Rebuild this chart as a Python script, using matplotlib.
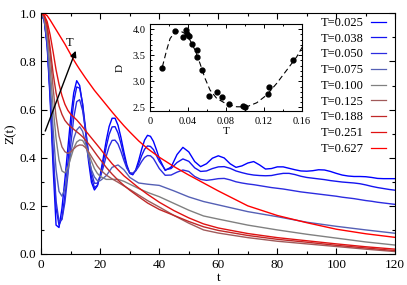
import matplotlib
matplotlib.use("Agg")
import matplotlib.pyplot as plt
import numpy as np
from matplotlib.ticker import MultipleLocator

plt.rcParams['font.family'] = ['Liberation Serif', 'DejaVu Serif']

# time grids
t_osc = np.r_[0:41, 42:121:2]
t_mono = [0, 1, 2, 3, 4, 5, 6, 7, 8, 9, 10, 11, 12, 13, 14, 15, 16, 17, 18, 19, 20,
          22, 24, 26, 28, 30, 33, 36, 40, 45, 50, 55, 60, 70, 80, 90, 100, 110, 120]

# oscillating curves (low T)
z_025 = [1.00, 0.97, 0.86, 0.64, 0.36, 0.12, 0.11, 0.19, 0.31, 0.44,
         0.57, 0.67, 0.72, 0.70, 0.62, 0.505, 0.387, 0.298, 0.266, 0.283,
         0.331, 0.399, 0.471, 0.53, 0.564, 0.564, 0.535, 0.484, 0.424, 0.37,
         0.335, 0.329, 0.349, 0.388, 0.434, 0.473, 0.493, 0.489, 0.468, 0.434, 0.397,
         0.347, 0.361, 0.413, 0.443, 0.424, 0.384, 0.363, 0.375, 0.398, 0.408,
         0.399, 0.375, 0.36, 0.366, 0.378, 0.384, 0.37, 0.353, 0.355, 0.362,
         0.362, 0.356, 0.35, 0.345, 0.344, 0.346, 0.35, 0.349, 0.343, 0.335,
         0.328, 0.324, 0.322, 0.322, 0.321, 0.318, 0.314, 0.313, 0.313, 0.313]
z_038 = [1.00, 0.97, 0.87, 0.66, 0.41, 0.19, 0.12, 0.149, 0.244, 0.378,
         0.519, 0.633, 0.694, 0.689, 0.625, 0.522, 0.409, 0.318, 0.276, 0.285,
         0.324, 0.381, 0.444, 0.497, 0.528, 0.529, 0.503, 0.459, 0.408, 0.362,
         0.335, 0.332, 0.347, 0.375, 0.408, 0.435, 0.449, 0.447, 0.434, 0.41, 0.385,
         0.35, 0.355, 0.38, 0.395, 0.385, 0.358, 0.343, 0.345, 0.355, 0.362,
         0.363, 0.356, 0.345, 0.338, 0.332, 0.328, 0.326, 0.325, 0.326, 0.331,
         0.335, 0.335, 0.33, 0.323, 0.318, 0.315, 0.312, 0.309, 0.305, 0.302,
         0.299, 0.297, 0.295, 0.292, 0.287, 0.281, 0.276, 0.272, 0.268, 0.265]
z_050 = [1.00, 0.97, 0.875, 0.67, 0.43, 0.22, 0.135, 0.143, 0.215, 0.328,
         0.456, 0.567, 0.633, 0.641, 0.596, 0.515, 0.42, 0.339, 0.294, 0.294,
         0.319, 0.36, 0.406, 0.447, 0.472, 0.473, 0.457, 0.426, 0.389, 0.356,
         0.338, 0.336, 0.345, 0.363, 0.384, 0.401, 0.409, 0.408, 0.397, 0.376, 0.355,
         0.327, 0.328, 0.34, 0.349, 0.343, 0.322, 0.31, 0.306, 0.309, 0.313,
         0.314, 0.308, 0.3, 0.295, 0.291, 0.288, 0.284, 0.28, 0.276, 0.273,
         0.27, 0.266, 0.262, 0.258, 0.255, 0.252, 0.249, 0.246, 0.243, 0.24,
         0.236, 0.233, 0.23, 0.226, 0.222, 0.219, 0.215, 0.212, 0.209, 0.206]

# smoother curves (higher T)
z_075 = [1.0, 0.975, 0.89, 0.71, 0.52, 0.35, 0.26, 0.24, 0.27, 0.34, 0.42,
         0.48, 0.515, 0.529, 0.51, 0.46, 0.40, 0.35, 0.32, 0.305, 0.305,
         0.325, 0.36, 0.37, 0.35, 0.318, 0.295, 0.29, 0.285, 0.262, 0.237,
         0.218, 0.204, 0.176, 0.155, 0.132, 0.115, 0.1, 0.086]
z_100 = [1.0, 0.98, 0.91, 0.77, 0.61, 0.48, 0.39, 0.345, 0.337, 0.36, 0.40,
         0.44, 0.465, 0.474, 0.472, 0.45, 0.42, 0.385, 0.355, 0.335, 0.322,
         0.31, 0.31, 0.31, 0.302, 0.29, 0.272, 0.256, 0.238, 0.21, 0.182,
         0.158, 0.145, 0.12, 0.1, 0.082, 0.066, 0.05, 0.037]
z_125 = [1.0, 0.985, 0.935, 0.83, 0.69, 0.57, 0.49, 0.445, 0.425, 0.418, 0.424,
         0.437, 0.448, 0.453, 0.452, 0.442, 0.425, 0.405, 0.385, 0.365, 0.35,
         0.328, 0.312, 0.298, 0.283, 0.268, 0.245, 0.222, 0.195, 0.16, 0.128,
         0.1, 0.087, 0.068, 0.053, 0.042, 0.031, 0.02, 0.01]
z_188 = [1.0, 0.99, 0.95, 0.855, 0.75, 0.67, 0.615, 0.58, 0.555, 0.54, 0.528,
         0.518, 0.508, 0.498, 0.487, 0.473, 0.458, 0.442, 0.425, 0.408, 0.392,
         0.36, 0.332, 0.307, 0.285, 0.265, 0.238, 0.212, 0.185, 0.16, 0.135,
         0.113, 0.098, 0.077, 0.061, 0.049, 0.036, 0.025, 0.014]
z_251 = [1.0, 0.992, 0.965, 0.91, 0.84, 0.765, 0.705, 0.658, 0.622, 0.597, 0.58,
         0.569, 0.557, 0.543, 0.528, 0.512, 0.497, 0.482, 0.467, 0.452, 0.437,
         0.405, 0.375, 0.35, 0.325, 0.305, 0.275, 0.248, 0.215, 0.18, 0.15,
         0.125, 0.108, 0.085, 0.068, 0.055, 0.042, 0.03, 0.02]
z_627 = [1.0, 0.998, 0.99, 0.972, 0.952, 0.932, 0.912, 0.892, 0.872, 0.85, 0.828,
         0.806, 0.786, 0.767, 0.749, 0.731, 0.714, 0.697, 0.68, 0.665, 0.65,
         0.62, 0.59, 0.561, 0.533, 0.507, 0.47, 0.438, 0.402, 0.363, 0.328,
         0.295, 0.262, 0.2, 0.16, 0.13, 0.103, 0.084, 0.069]

temps = ['0.025', '0.038', '0.050', '0.075', '0.100', '0.125', '0.188', '0.251', '0.627']
colors = ['#0000ff', '#1414f0', '#2c2ce0', '#5560b5', '#808080',
          '#a05a5a', '#c02828', '#e01212', '#ff0000']
curves = [(t_osc, z_025), (t_osc, z_038), (t_osc, z_050),
          (t_mono, z_075), (t_mono, z_100), (t_mono, z_125),
          (t_mono, z_188), (t_mono, z_251), (t_mono, z_627)]

# inset: D vs T
inset_T = [0.0129, 0.0263, 0.0351, 0.0379, 0.0393, 0.0414, 0.0439, 0.0498, 0.0491,
           0.0544, 0.0625, 0.0709, 0.0754, 0.0832, 0.0982, 0.1000, 0.1245, 0.1253, 0.150]
inset_D = [3.247, 3.967, 3.853, 3.98, 3.917, 3.866, 3.707, 3.598, 3.457,
           3.215, 2.717, 2.80, 2.692, 2.557, 2.525, 2.50, 2.749, 2.895, 3.40]
fit_T = [0.0130, 0.0175, 0.0211, 0.0263, 0.0316, 0.0368, 0.0421, 0.0474, 0.0526,
         0.0579, 0.0632, 0.0702, 0.0807, 0.0912, 0.1018, 0.1123, 0.1228, 0.1333,
         0.1439, 0.1544, 0.1604]
fit_D = [3.278, 3.598, 3.82, 3.949, 3.968, 3.917, 3.789, 3.598, 3.343,
         3.056, 2.831, 2.672, 2.563, 2.511, 2.511, 2.588, 2.736, 2.96,
         3.215, 3.47, 3.661]

fig = plt.figure(figsize=(4.07, 2.85), dpi=100)
ax = fig.add_axes([0.1015, 0.1088, 0.8697, 0.8445])

for (tt, zz), T, c in zip(curves, temps, colors):
    ax.plot(tt, zz, color=c, lw=1.0, label='T=' + T)

ax.set_xlim(0, 120)
ax.set_ylim(0, 1)
ax.xaxis.set_major_locator(MultipleLocator(20))
ax.xaxis.set_minor_locator(MultipleLocator(10))
ax.yaxis.set_minor_locator(MultipleLocator(0.1))
ax.set_yticks([0, 0.2, 0.4, 0.6, 0.8, 1.0])
ax.set_yticklabels(['0.0', '0.2', '0.4', '0.6', '0.8', '1.0'])
ax.tick_params(which='both', direction='in', top=True, right=True, labelsize=9.5)
ax.tick_params(which='major', length=4, width=0.8)
ax.tick_params(which='minor', length=2, width=0.8)
ax.set_xlabel('t', fontsize=9.5, labelpad=1)
ax.set_ylabel('Z(t)', fontsize=9.5, labelpad=2)

ax.annotate('', xy=(12.0, 0.855), xytext=(1.0, 0.50),
            arrowprops=dict(arrowstyle='-|>', color='k', lw=1.0, mutation_scale=9))
ax.text(9.7, 0.875, 'T', fontsize=9, ha='center', va='center')

leg = ax.legend(loc='upper right', bbox_to_anchor=(0.975, 0.985), frameon=False,
                markerfirst=False, fontsize=9, handlelength=1.2, handletextpad=0.6,
                labelspacing=0.3, borderaxespad=0, borderpad=0)
for h in leg.get_lines():
    h.set_linewidth(0.9)

ins = fig.add_axes([0.3686, 0.6105, 0.3735, 0.3053])
ins.plot(fit_T, fit_D, color='k', lw=0.8, ls=(0, (5, 3)))
ins.plot(inset_T, inset_D, 'o', color='k', ms=3.5)
ins.set_xlim(0, 0.16)
ins.set_ylim(2.43, 4.1)
ins.set_xticks([0, 0.04, 0.08, 0.12, 0.16])
ins.set_xticklabels(['0', '0.04', '0.08', '0.12', '0.16'])
ins.set_yticks([2.5, 3.0, 3.5, 4.0])
ins.set_yticklabels(['2.5', '3.0', '3.5', '4.0'])
ins.xaxis.set_minor_locator(MultipleLocator(0.02))
ins.yaxis.set_minor_locator(MultipleLocator(0.1))
ins.tick_params(which='both', direction='in', top=True, right=True, labelsize=7.5)
ins.tick_params(axis='x', pad=4)
ins.tick_params(axis='y', pad=3)
ins.tick_params(which='major', length=3, width=0.7)
ins.tick_params(which='minor', length=1.5, width=0.7)
ins.set_xlabel('T', fontsize=8, labelpad=1)
ins.set_ylabel('D', fontsize=8, labelpad=6)

fig.savefig('out.png', dpi=100)
